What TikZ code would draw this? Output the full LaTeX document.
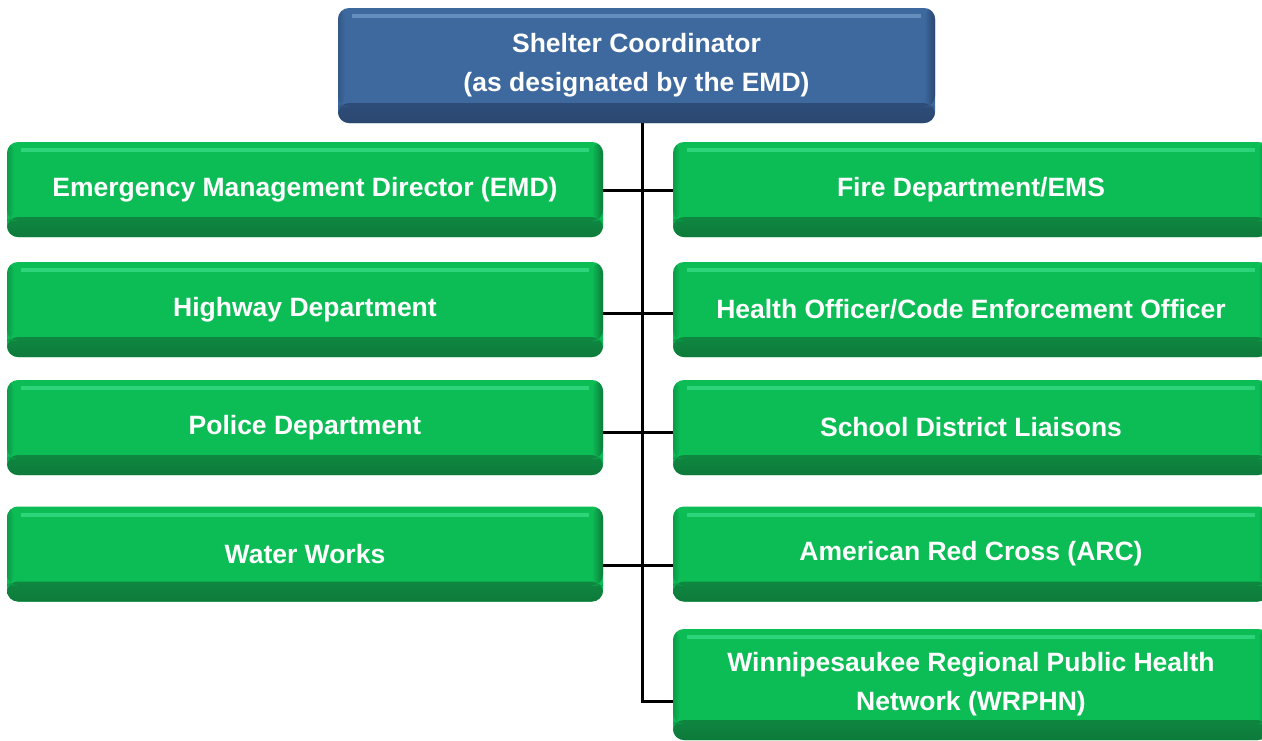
\documentclass[tikz,border=0pt]{standalone}
\usepackage{fontspec}
\setmainfont{Liberation Sans}

\definecolor{boxgreen}{HTML}{0CBC55}
\definecolor{boxgreendark}{HTML}{0E7A3B}
\definecolor{boxgreenlight}{HTML}{46E592}
\definecolor{boxblue}{HTML}{3E699E}
\definecolor{boxbluedark}{HTML}{2A4770}
\definecolor{boxbluelight}{HTML}{7FA5D3}

% bevel of a box: dark bottom and right edge, light strip on top
\newcommand{\boxbevel}[3]{%
  \shade[top color=#1, bottom color=#2] ([yshift=20pt]path picture bounding box.south west) rectangle (path picture bounding box.south east);
  \shade[left color=#1, right color=#2] ([xshift=-11pt]path picture bounding box.north east) rectangle ([yshift=16pt]path picture bounding box.south east);
  \shade[left color=#2, right color=#1, opacity=.5] (path picture bounding box.north west) rectangle ([xshift=7pt,yshift=16pt]path picture bounding box.south west);
  \draw[#3, line width=4pt, opacity=.6] ([xshift=14pt,yshift=-8pt]path picture bounding box.north west) -- ([xshift=-14pt,yshift=-8pt]path picture bounding box.north east);
}

\tikzset{
  orgbox/.style={rounded corners=11pt, inner sep=0pt, text=white, align=center,
    font=\fontsize{26.5}{39}\selectfont\bfseries},
  greenbox/.style={orgbox, fill=boxgreen, minimum width=596pt, minimum height=95pt,
    path picture={\boxbevel{boxgreen}{boxgreendark}{boxgreenlight}}},
  bluebox/.style={orgbox, fill=boxblue, minimum width=597pt, minimum height=115pt,
    path picture={\boxbevel{boxblue}{boxbluedark}{boxbluelight}}},
  link/.style={line width=3pt, black},
}

\begin{document}
\begin{tikzpicture}[x=1pt, y=-1pt]
\useasboundingbox (0,0) rectangle (1262,740);

% head
\node[bluebox] (coord) at (636.5,65.5) {Shelter Coordinator\\(as designated by the EMD)};

% left column
\node[greenbox] (emd) at (305,189.5) {Emergency Management Director (EMD)};
\node[greenbox] (highway) at (305,309.5) {Highway Department};
\node[greenbox] (police) at (305,427.5) {Police Department};
\node[greenbox] (water) at (305,554) {Water Works};

% right column
\node[greenbox] (fire) at (971,189.5) {Fire Department/EMS};
\node[greenbox] (health) at (971,309.5) {Health Officer/Code Enforcement Officer};
\node[greenbox] (school) at (971,427.5) {School District Liaisons};
\node[greenbox] (arc) at (971,554) {American Red Cross (ARC)};
\node[greenbox, minimum height=111pt] (wrphn) at (971,684.5) {Winnipesaukee Regional Public Health\\Network (WRPHN)};

% trunk
\coordinate (j1) at (642,190);
\coordinate (j2) at (642,313);
\coordinate (j3) at (642,432);
\coordinate (j4) at (642,565);
\coordinate (j5) at (642,701);

\draw[link] (coord.south -| j5) -- (j5) -- (wrphn.west |- j5);
\draw[link] (emd.east |- j1) -- (fire.west |- j1);
\draw[link] (highway.east |- j2) -- (health.west |- j2);
\draw[link] (police.east |- j3) -- (school.west |- j3);
\draw[link] (water.east |- j4) -- (arc.west |- j4);
\end{tikzpicture}
\end{document}
